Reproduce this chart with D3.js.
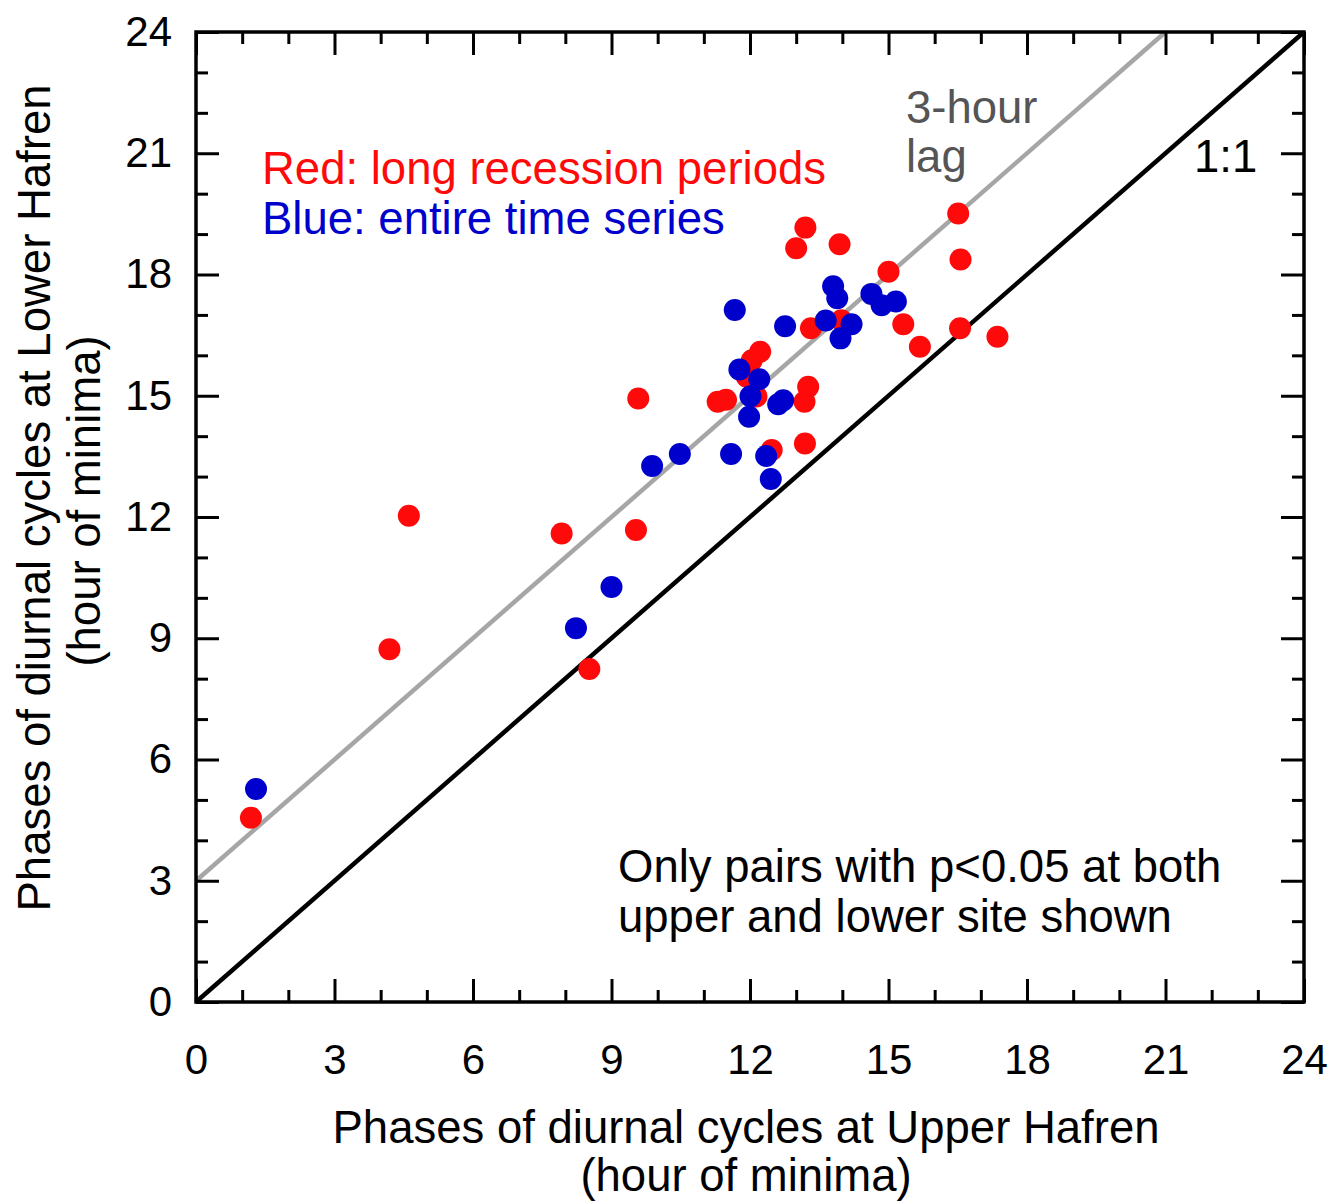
<!DOCTYPE html>
<html>
<head>
<meta charset="utf-8">
<script src="https://cdn.jsdelivr.net/npm/d3@7"></script>
<style>
  html, body { margin: 0; padding: 0; background: #fff; }
  svg { display: block; font-family: "Liberation Sans", Arial, sans-serif; }
</style>
</head>
<body>
<svg id="chart" width="1332" height="1202"></svg>
<script>
// ---- data ----
const xTickValues = [0, 3, 6, 9, 12, 15, 18, 21, 24];
const yTickValues = [0, 3, 6, 9, 12, 15, 18, 21, 24];
const minorTickValues = d3.range(0, 25, 1);

// Red: long recession periods  [upper, lower]
const redX = [1.19, 4.19, 4.61, 7.92, 8.52, 9.53, 9.58, 11.30, 11.48, 11.93, 12.04, 12.22, 12.14, 12.47, 13.19, 13.18, 13.26, 13.32, 13.98, 13.00, 13.20, 13.94, 15.00, 15.32, 15.68, 16.51, 16.56, 16.55, 17.36];
const redY = [4.56, 8.73, 12.03, 11.59, 8.24, 11.68, 14.93, 14.85, 14.90, 15.47, 15.88, 16.09, 14.98, 13.66, 13.82, 14.85, 15.22, 16.67, 16.87, 18.65, 19.16, 18.75, 18.07, 16.77, 16.21, 19.51, 18.37, 16.67, 16.46];

// Blue: entire time series
const blueX = [1.30, 8.23, 9.00, 9.88, 10.48, 11.59, 12.35, 12.45, 11.98, 12.01, 12.61, 12.72, 11.77, 12.20, 11.67, 12.76, 13.64, 14.20, 13.96, 13.80, 13.89, 14.63, 14.85, 15.16];
const blueY = [5.27, 9.25, 10.27, 13.26, 13.56, 13.56, 13.51, 12.94, 14.48, 14.99, 14.79, 14.89, 15.65, 15.41, 17.12, 16.72, 16.86, 16.77, 16.42, 17.71, 17.41, 17.52, 17.24, 17.33];

const oneToOne = [[0, 0], [24, 24]];
const lagLine = [[0, 3], [21, 24]];

(function () {
// ---- layout ----
const svg = d3.select("#chart");
const mLeft = 196, mRight = 1304, mTop = 32, mBottom = 1002;
const x = d3.scaleLinear().domain([0, 24]).range([mLeft, mRight]);
const y = d3.scaleLinear().domain([0, 24]).range([mBottom, mTop]);

const red = "#ff0a0a", blue = "#0000cc";
const big = 45.5;

// reference lines
const line = d3.line().x(d => x(d[0])).y(d => y(d[1]));
svg.append("path").attr("d", line(lagLine)).attr("stroke", "#a6a6a6").attr("stroke-width", 4.5).attr("fill", "none");
svg.append("path").attr("d", line(oneToOne)).attr("stroke", "#000").attr("stroke-width", 4.5).attr("fill", "none");

// points
const redPts = redX.map((v, i) => [v, redY[i]]);
const bluePts = blueX.map((v, i) => [v, blueY[i]]);
svg.append("g").selectAll("circle").data(redPts).join("circle")
  .attr("cx", d => x(d[0])).attr("cy", d => y(d[1])).attr("r", 11).attr("fill", red);
svg.append("g").selectAll("circle").data(bluePts).join("circle")
  .attr("cx", d => x(d[0])).attr("cy", d => y(d[1])).attr("r", 11).attr("fill", blue);

// axes: ticks inward on all sides
const majorLen = 23, minorLen = 12;
function styleAxis(g) {
  g.select(".domain").remove();
  g.selectAll("line").attr("stroke", "#000").attr("stroke-width", 3);
}
const minorOnly = minorTickValues.filter(v => v % 3 !== 0);
const fontFam = "Liberation Sans, Arial, sans-serif";

// bottom
svg.append("g").attr("transform", `translate(0,${mBottom})`)
  .call(d3.axisBottom(x).tickValues(minorOnly).tickSize(-minorLen).tickFormat(""))
  .call(styleAxis);
svg.append("g").attr("transform", `translate(0,${mBottom})`)
  .call(d3.axisBottom(x).tickValues(xTickValues).tickSize(-majorLen).tickPadding(42).tickFormat(d3.format("d")))
  .call(styleAxis)
  .call(g => g.selectAll("text").attr("font-size", 42).attr("fill", "#000").attr("font-family", fontFam));
// top
svg.append("g").attr("transform", `translate(0,${mTop})`)
  .call(d3.axisTop(x).tickValues(minorOnly).tickSize(-minorLen).tickFormat(""))
  .call(styleAxis);
svg.append("g").attr("transform", `translate(0,${mTop})`)
  .call(d3.axisTop(x).tickValues(xTickValues).tickSize(-majorLen).tickFormat(""))
  .call(styleAxis);
// left
svg.append("g").attr("transform", `translate(${mLeft},0)`)
  .call(d3.axisLeft(y).tickValues(minorOnly).tickSize(-minorLen).tickFormat(""))
  .call(styleAxis);
svg.append("g").attr("transform", `translate(${mLeft},0)`)
  .call(d3.axisLeft(y).tickValues(yTickValues).tickSize(-majorLen).tickPadding(24).tickFormat(d3.format("d")))
  .call(styleAxis)
  .call(g => g.selectAll("text").attr("font-size", 42).attr("fill", "#000").attr("font-family", fontFam));
// right
svg.append("g").attr("transform", `translate(${mRight},0)`)
  .call(d3.axisRight(y).tickValues(minorOnly).tickSize(-minorLen).tickFormat(""))
  .call(styleAxis);
svg.append("g").attr("transform", `translate(${mRight},0)`)
  .call(d3.axisRight(y).tickValues(yTickValues).tickSize(-majorLen).tickFormat(""))
  .call(styleAxis);

// frame
svg.append("rect").attr("x", mLeft).attr("y", mTop).attr("width", mRight - mLeft).attr("height", mBottom - mTop)
  .attr("fill", "none").attr("stroke", "#000").attr("stroke-width", 3.5);

// axis titles
svg.append("text").attr("x", 746).attr("y", 1143).attr("text-anchor", "middle").attr("font-size", big)
  .text("Phases of diurnal cycles at Upper Hafren");
svg.append("text").attr("x", 746).attr("y", 1191).attr("text-anchor", "middle").attr("font-size", big)
  .text("(hour of minima)");
svg.append("text").attr("transform", "translate(50,498) rotate(-90)").attr("text-anchor", "middle").attr("font-size", big)
  .text("Phases of diurnal cycles at Lower Hafren");
svg.append("text").attr("transform", "translate(100,501) rotate(-90)").attr("text-anchor", "middle").attr("font-size", big)
  .text("(hour of minima)");

// annotations
svg.append("text").attr("x", 262).attr("y", 184).attr("font-size", big).attr("fill", red).text("Red: long recession periods");
svg.append("text").attr("x", 262).attr("y", 234).attr("font-size", big).attr("fill", blue).text("Blue: entire time series");
svg.append("text").attr("x", 906).attr("y", 123).attr("font-size", big).attr("fill", "#555").text("3-hour");
svg.append("text").attr("x", 906).attr("y", 172).attr("font-size", big).attr("fill", "#555").text("lag");
svg.append("text").attr("x", 1194).attr("y", 172).attr("font-size", big).attr("fill", "#000").text("1:1");
svg.append("text").attr("x", 618).attr("y", 882).attr("font-size", big).attr("fill", "#000").text("Only pairs with p<0.05 at both");
svg.append("text").attr("x", 618).attr("y", 932).attr("font-size", big).attr("fill", "#000").text("upper and lower site shown");
})();
</script>
</body>
</html>
